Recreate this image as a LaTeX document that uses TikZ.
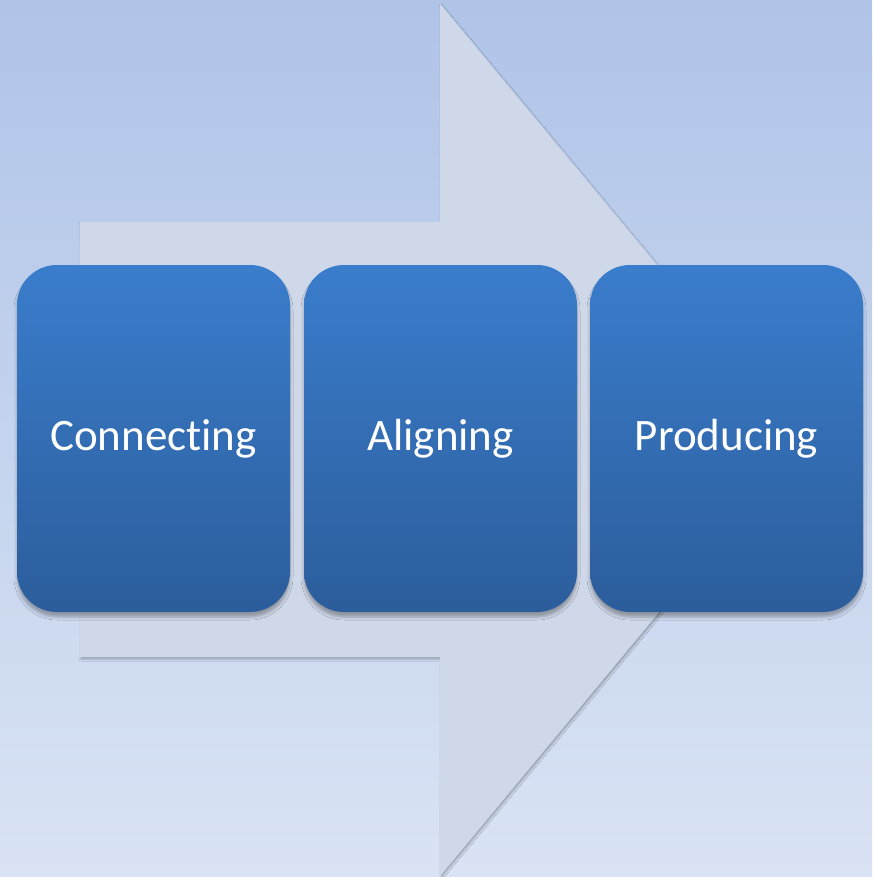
\documentclass[tikz,border=0pt]{standalone}
\usepackage{fontspec}
\setmainfont[Ligatures=NoCommon]{Carlito}
\usetikzlibrary{shadows.blur}
\definecolor{bgtop}{HTML}{B0C4E8}
\definecolor{bgbot}{HTML}{D9E3F4}
\definecolor{arrowfill}{HTML}{CFD8E8}
\definecolor{boxtop}{HTML}{3A7DCC}
\definecolor{boxbot}{HTML}{2C5D9B}
\tikzset{
  stagebox/.style={rounded corners=40pt, minimum width=273pt, minimum height=347pt,
    top color=boxtop, bottom color=boxbot, draw=none, text=white,
    font=\fontsize{45}{54}\selectfont,
    blur shadow={shadow xshift=0pt, shadow yshift=-5pt, shadow blur radius=3pt, shadow opacity=30}},
}
\begin{document}
\begin{tikzpicture}[x=1pt,y=-1pt]
\useasboundingbox (0,0) rectangle (872,877);
\shade[top color=bgtop, bottom color=bgbot] (0,0) rectangle (872,877);
% big arrow
\fill[arrowfill, blur shadow={shadow xshift=1pt, shadow yshift=-2pt, shadow blur radius=2pt, shadow opacity=30}]
  (80,222) -- (440,222) -- (440,4) -- (802,440) -- (440,876) -- (440,657) -- (80,657) -- cycle;
\fill[arrowfill] (80,222) -- (440,222) -- (440,4) -- (802,440) -- (440,876) -- (440,657) -- (80,657) -- cycle;
\node[stagebox] (c) at (153.5,438.5) {Connecting};
\node[stagebox] (a) at (440.5,438.5) {Aligning};
\node[stagebox] (p) at (726.5,438.5) {Producing};
\end{tikzpicture}
\end{document}
